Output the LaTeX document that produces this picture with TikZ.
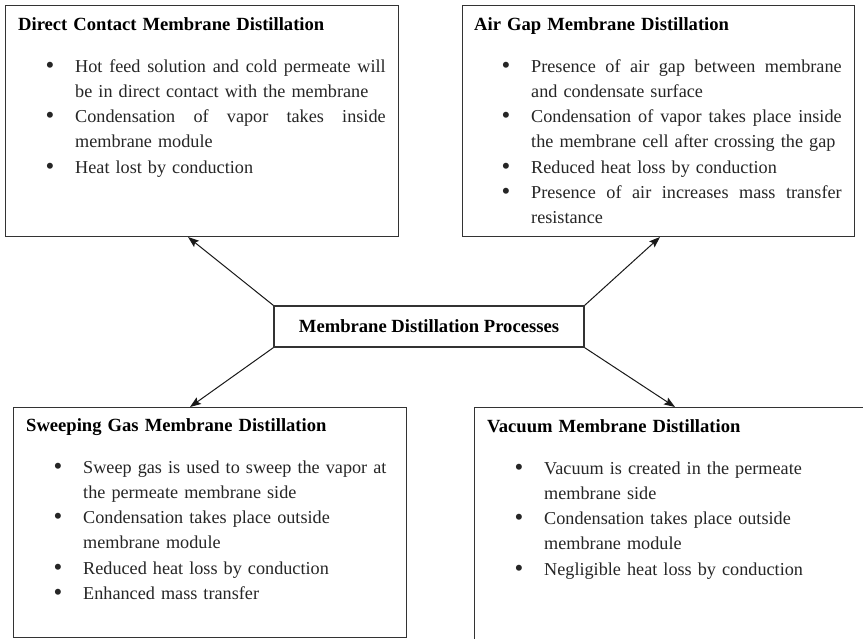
\documentclass[tikz,border=0pt]{standalone}
\usepackage{fontspec}
\setmainfont{Liberation Serif}
\usetikzlibrary{arrows.meta}
\hyphenpenalty=10000
\exhyphenpenalty=10000
\newcommand\mdbullet{\raisebox{-1pt}{\fontsize{25}{25}\selectfont\textbullet}}
\newcommand\mditem[1]{\par\noindent\hangindent=57pt\hangafter=1\makebox[57pt][l]{\hspace{27.5pt}\mdbullet}#1\par}
\newcommand\mdhead[1]{{\bfseries\fontsize{18.6}{25.3}\selectfont\color{black}#1}\par\vspace{16.7pt}}
\newcommand\mdfull[1]{\hbox to 310.5pt{\spaceskip=4.55pt plus 20pt minus 1pt\relax #1}}
\tikzset{
  mdbox/.style={draw=black!80, line width=1.3pt, inner sep=0pt, anchor=north west},
  mdtext/.style={anchor=base west, inner sep=0pt, text width=370pt,
    font=\fontsize{18.2}{25.3}\selectfont, text=black!85},
  mdarrow/.style={-{Stealth[length=11pt,width=8pt,inset=2pt]}, line width=1pt, draw=black!90}
}
\begin{document}
\begin{tikzpicture}[x=1pt,y=-1pt]
\clip (0,0) rectangle (863,638);
\fill[white] (0,0) rectangle (863,638);

% boxes
\node[mdbox, minimum width=393pt, minimum height=231pt] (dcmd) at (5,5) {};
\node[mdbox, minimum width=392pt, minimum height=231pt] (agmd) at (462,5) {};
\node[mdbox, minimum width=393pt, minimum height=230pt] (sgmd) at (13,407) {};
\node[mdbox, minimum width=420pt, minimum height=260pt] (vmd) at (474,407) {};

% texts
\node[mdtext] (dcmdtxt) at (18,30) {\raggedright
\mdhead{Direct Contact Membrane Distillation}%
\mditem{\mdfull{Hot feed solution and cold permeate will}\newline be in direct contact with the membrane}%
\mditem{\mdfull{Condensation of vapor takes inside}\newline membrane module}%
\mditem{Heat lost by conduction}};

\node[mdtext] (agmdtxt) at (474,30) {\raggedright
\mdhead{Air Gap Membrane Distillation}%
\mditem{\mdfull{Presence of air gap between membrane}\newline and condensate surface}%
\mditem{\mdfull{Condensation of vapor takes place inside}\newline the membrane cell after crossing the gap}%
\mditem{Reduced heat loss by conduction}%
\mditem{\mdfull{Presence of air increases mass transfer}\newline resistance}};

\node[mdtext] (sgmdtxt) at (26,431) {\raggedright
\mdhead{Sweeping Gas Membrane Distillation}%
\mditem{Sweep gas is used to sweep the vapor at\newline the permeate membrane side}%
\mditem{Condensation takes place outside\newline membrane module}%
\mditem{Reduced heat loss by conduction}%
\mditem{Enhanced mass transfer}};

\node[mdtext] (vmdtxt) at (487,432) {\raggedright
\mdhead{Vacuum Membrane Distillation}%
\mditem{Vacuum is created in the permeate\newline membrane side}%
\mditem{Condensation takes place outside\newline membrane module}%
\mditem{Negligible heat loss by conduction}};

% centre
\node[draw=black!80, line width=1.3pt, minimum width=310pt, minimum height=41pt, inner sep=0pt,
  font=\bfseries\fontsize{18.6}{23}\selectfont] (mdp) at (429,326.5) {Membrane Distillation Processes};

% arrow tips on the box edges
\coordinate (tipA) at (188,237);
\coordinate (tipB) at (660,237);
\coordinate (tipC) at (190,407);
\coordinate (tipD) at (675,407);

\draw[mdarrow] (mdp.north west) -- (tipA);
\draw[mdarrow] (mdp.north east) -- (tipB);
\draw[mdarrow] (mdp.south west) -- (tipC);
\draw[mdarrow] (mdp.south east) -- (tipD);
\end{tikzpicture}
\end{document}
